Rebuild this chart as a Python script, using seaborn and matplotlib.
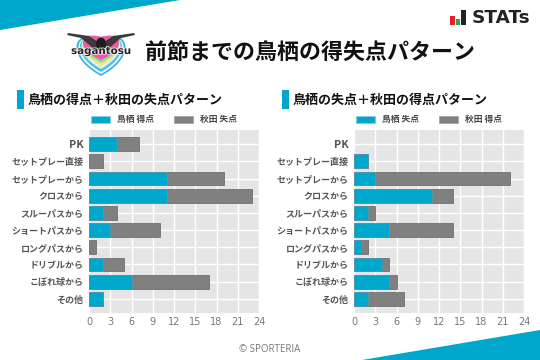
import matplotlib
matplotlib.use("Agg")
import matplotlib.pyplot as plt
import seaborn as sns
import numpy as np
from matplotlib.patches import Polygon, Rectangle, PathPatch, Ellipse
from matplotlib.path import Path
import matplotlib.patheffects as pe

sns.set_theme(style="darkgrid")
JP = ['Noto Sans CJK JP', 'DejaVu Sans']
plt.rcParams['font.family'] = JP

categories = ["PK", "セットプレー直接", "セットプレーから", "クロスから", "スルーパスから",
              "ショートパスから", "ロングパスから", "ドリブルから", "こぼれ球から", "その他"]
tosu_for = [4, 0, 11, 11, 2, 3, 0, 2, 6, 2]
akita_against = [3, 2, 8, 12, 2, 7, 1, 3, 11, 0]
tosu_against = [0, 2, 3, 11, 2, 5, 1, 4, 5, 2]
akita_for = [0, 0, 19, 3, 1, 9, 1, 1, 1, 5]
x_ticks = [0, 3, 6, 9, 12, 15, 18, 21, 24]

main_title = "前節までの鳥栖の得失点パターン"
left_title = "鳥栖の得点＋秋田の失点パターン"
right_title = "鳥栖の失点＋秋田の得点パターン"
left_legend = ["鳥栖 得点", "秋田 失点"]
right_legend = ["鳥栖 失点", "秋田 得点"]

BLUE = "#00A7CC"
GREY = "#808080"
W, H = 540, 360

fig = plt.figure(figsize=(5.4, 3.6), dpi=100, facecolor="white")
bg = fig.add_axes([0, 0, 1, 1], zorder=0)
bg.set_xlim(0, W)
bg.set_ylim(H, 0)
bg.axis("off")

# corner wedges
bg.add_patch(Polygon([(0, 0), (180, 0), (0, 30)], fc=BLUE, ec="none"))
bg.add_patch(Polygon([(362, 360), (540, 330), (540, 360)], fc=BLUE, ec="none"))

# club crest
def crest(cx, top, w, h, **kw):
    p = [(cx, top + h), (cx - w * .28, top + h * .82), (cx - w / 2, top + h * .58), (cx - w / 2, top + h * .3),
         (cx - w / 2, top + h * .05), (cx - w * .2, top - h * .02), (cx, top + h * .08),
         (cx + w * .2, top - h * .02), (cx + w / 2, top + h * .05), (cx + w / 2, top + h * .3),
         (cx + w / 2, top + h * .58), (cx + w * .28, top + h * .82), (cx, top + h)]
    codes = [Path.MOVETO] + [Path.CURVE4] * 12
    bg.add_patch(PathPatch(Path(p, codes), **kw))

crest(101, 34, 49, 42, fc="#35B4E4", ec="none")
crest(101, 35, 45, 39, fc="white", ec="none")
crest(101, 35, 42, 37, fc="#4DBDE8", ec="none")
crest(101, 35, 39, 34, fc="#D8F0F8", ec="none")
crest(101, 35, 37, 31, fc="#F2EC6C", ec="none")
crest(101, 35, 36, 28, fc="#8FD8A8", ec="none")
crest(101, 35, 36, 25, fc="#EE5AA5", ec="none")
for sgn in (-1, 1):
    bg.add_patch(Polygon([(101, 44), (101 + sgn * 12, 36), (101 + sgn * 33, 33),
                          (101 + sgn * 34, 35), (101 + sgn * 20, 38), (101 + sgn * 7, 49)],
                         fc="#3A3A3A", ec="none"))
bg.add_patch(Ellipse((101, 44), 10, 13, fc="#1E1E1E", ec="none"))
bg.text(101, 51, "sagantosu", ha="center", va="center", fontsize=7.4, fontweight="bold",
        color="#222222", family="DejaVu Sans",
        path_effects=[pe.withStroke(linewidth=1, foreground="white")])

# STATs logo
bg.add_patch(Rectangle((450, 16), 5, 9, fc="#E2202C", ec="none"))
bg.add_patch(Rectangle((455.5, 19), 4.5, 6, fc="#2AA84A", ec="none"))
bg.add_patch(Rectangle((461, 10), 4.5, 15, fc="#222222", ec="none"))
bg.text(472, 17.7, "STATs", ha="left", va="center", fontsize=13.2, fontweight="bold",
        color="#222222", family="DejaVu Sans")

bg.text(145, 53, main_title, ha="left", va="center", fontsize=15.8, fontweight="bold", color="#111111")
bg.text(270, 350, "© SPORTERIA", ha="center", va="center", fontsize=7, color="#777777", family="Open Sans")


def panel(x0, title, legend, front, back):
    bg.add_patch(Rectangle((x0 - 72, 90), 7, 19, fc=BLUE, ec="none"))
    bg.text(x0 - 61, 99.5, title, ha="left", va="center", fontsize=9.35, fontweight="bold", color="#111111")
    bg.add_patch(Rectangle((x0 + 2, 116), 19, 6.5, fc=BLUE, ec="#8FCFE0", lw=.5))
    bg.text(x0 + 28, 119.5, legend[0], ha="left", va="center", fontsize=6.3, fontweight="bold", color="#444444")
    bg.add_patch(Rectangle((x0 + 85, 116), 19, 6.5, fc=GREY, ec="#A0A0A0", lw=.5))
    bg.text(x0 + 111, 119.5, legend[1], ha="left", va="center", fontsize=6.3, fontweight="bold", color="#444444")

    ax = fig.add_axes([x0 / W, 1 - 313 / H, 170 / W, 183 / H], zorder=1)
    ax.set_facecolor("#E5E5E5")
    total = np.array(front) + np.array(back)
    sns.barplot(x=total, y=categories, orient="h", color=GREY, saturation=1, width=0.8,
                edgecolor="#707070", linewidth=0.6, ax=ax)
    sns.barplot(x=front, y=categories, orient="h", color=BLUE, saturation=1, width=0.8,
                edgecolor="#5E97A8", linewidth=0.5, ax=ax)
    for bar in ax.patches:
        if bar.get_width() == 0:
            bar.set_visible(False)
    ax.set_xlim(0, 24)
    ax.set_ylim(9.82, -0.82)
    ax.set_xticks(x_ticks)
    ax.set_xlabel("")
    ax.set_ylabel("")
    ax.grid(True, color="white", linewidth=1)
    ax.set_axisbelow(True)
    for s in ax.spines.values():
        s.set_visible(False)
    ax.tick_params(axis="x", labelsize=7, labelcolor="#777777", length=0, pad=3)
    ax.tick_params(axis="y", labelsize=6.5, labelcolor="#555555", length=0, pad=4)
    for t in ax.get_xticklabels():
        t.set_family("DejaVu Sans")
    for t in ax.get_yticklabels():
        t.set_fontweight("bold")
        if t.get_text() == "PK":
            t.set_fontsize(7.8)
    return ax


panel(89, left_title, left_legend, tosu_for, akita_against)
panel(354, right_title, right_legend, tosu_against, akita_for)

fig.savefig("out.png", dpi=100, facecolor="white")
